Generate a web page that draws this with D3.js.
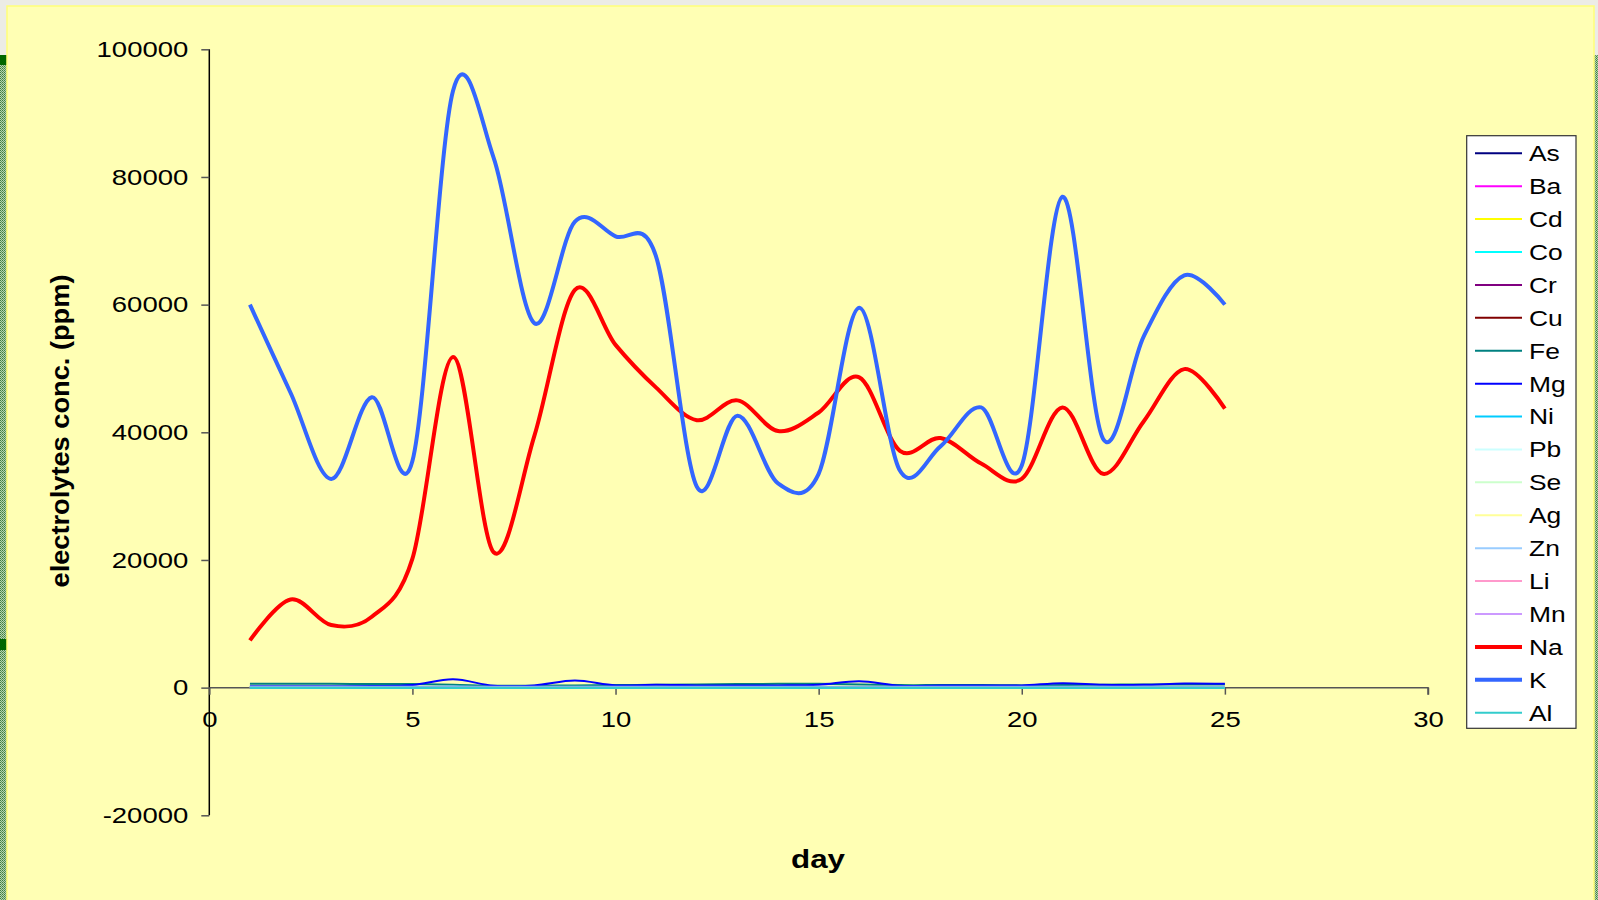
<!DOCTYPE html>
<html>
<head>
<meta charset="utf-8">
<script src="https://cdnjs.cloudflare.com/ajax/libs/d3/7.8.5/d3.min.js"></script>
<style>
html,body{margin:0;padding:0;background:#ecece6;overflow:hidden;}
svg{display:block;}
text{font-family:"Liberation Sans",Arial,sans-serif;}
</style>
</head>
<body>
<svg id="chart" width="1598" height="900"></svg>
<script>
// ---------- DATA ----------
const days = [1,2,3,4,5,6,7,8,9,10,11,12,13,14,15,16,17,18,19,20,21,22,23,24,25];
const seriesNames = ["As","Ba","Cd","Co","Cr","Cu","Fe","Mg","Ni","Pb","Se","Ag","Zn","Li","Mn","Na","K","Al"];
const seriesColors = ["#000080","#FF00FF","#FFFF00","#00FFFF","#800080","#800000","#008080","#0000FF","#00CCFF","#CCFFFF","#CCFFCC","#FFFF99","#99CCFF","#FF99CC","#CC99FF","#FF0000","#3366FF","#33CCCC"];
const As = [10,10,10,10,10,12,10,10,10,10,10,10,10,10,10,10,10,10,10,10,10,10,10,10,10];
const Ba = [20,20,20,20,20,25,20,20,22,20,20,20,20,20,20,22,20,20,20,20,20,20,20,20,20];
const Cd = [5,5,5,5,5,5,5,5,5,5,5,5,5,5,5,5,5,5,5,5,5,5,5,5,5];
const Co = [5,5,5,5,5,5,5,5,5,5,5,5,5,5,5,5,5,5,5,5,5,5,5,5,5];
const Cr = [20,20,20,20,20,20,20,20,20,20,20,20,20,20,20,20,20,20,20,20,20,20,20,20,20];
const Cu = [30,30,30,30,30,35,30,30,30,30,30,30,30,30,30,30,30,30,30,30,30,30,30,30,30];
const Fe = [600,600,600,550,550,450,300,300,350,400,450,500,550,600,600,500,400,400,400,350,400,450,500,500,500];
const Mg = [200,200,220,250,400,1300,300,350,1100,350,450,350,350,350,450,1000,300,350,350,350,700,450,450,650,600];
const Ni = [100,100,100,100,100,120,100,100,110,100,100,100,100,100,100,110,100,100,100,100,100,100,100,100,100];
const Pb = [10,10,10,10,10,10,10,10,10,10,10,10,10,10,10,10,10,10,10,10,10,10,10,10,10];
const Se = [10,10,10,10,10,10,10,10,10,10,10,10,10,10,10,10,10,10,10,10,10,10,10,10,10];
const Ag = [5,5,5,5,5,5,5,5,5,5,5,5,5,5,5,5,5,5,5,5,5,5,5,5,5];
const Zn = [150,150,150,150,150,160,150,150,150,150,150,150,150,150,150,150,150,150,150,150,150,150,150,150,150];
const Li = [50,50,50,50,50,50,50,50,50,50,50,50,50,50,50,50,50,50,50,50,50,50,50,50,50];
const Mn = [100,100,100,100,100,110,100,100,100,100,100,100,100,100,100,100,100,100,100,100,100,100,100,100,100];
const Na = [7400,13800,9800,11100,20200,51800,21200,39400,62300,53700,47000,41900,45000,40200,43100,48600,37100,39100,35100,32700,43900,33500,41700,49900,43700];
const K  = [60000,46200,32700,45500,35500,93500,83000,57100,73000,70700,67500,31500,42600,32000,33500,59500,34000,37800,43900,34800,76900,39000,55000,64600,60000];
const Al = [0,0,0,0,0,0,0,0,0,0,0,0,0,0,0,0,0,0,0,0,0,0,0,0,0];
const seriesValues = [As,Ba,Cd,Co,Cr,Cu,Fe,Mg,Ni,Pb,Se,Ag,Zn,Li,Mn,Na,K,Al];
const xTicks = [0,5,10,15,20,25,30];
const yTicks = [-20000,0,20000,40000,60000,80000,100000];
const xTitle = "day";
const yTitle = "electrolytes conc. (ppm)";

// ---------- DRAW ----------
const svg = d3.select("#chart");
const defs = svg.append("defs");
const pat = defs.append("pattern").attr("id","grn").attr("width",2).attr("height",2).attr("patternUnits","userSpaceOnUse");
pat.append("rect").attr("width",2).attr("height",2).attr("fill","#b8d4b0");
pat.append("rect").attr("width",1).attr("height",1).attr("fill","#3f7f3f");
pat.append("rect").attr("x",1).attr("y",1).attr("width",1).attr("height",1).attr("fill","#5f975f");

svg.append("rect").attr("x",0).attr("y",0).attr("width",1598).attr("height",900).attr("fill","#ecece6");
svg.append("rect").attr("x",0).attr("y",55).attr("width",7).attr("height",845).attr("fill","url(#grn)");
svg.append("rect").attr("x",0).attr("y",55).attr("width",7).attr("height",10).attr("fill","#006600");
svg.append("rect").attr("x",0).attr("y",639).attr("width",7).attr("height",11).attr("fill","#006600");
svg.append("rect").attr("x",1593).attr("y",55).attr("width",5).attr("height",845).attr("fill","url(#grn)");
svg.append("rect").attr("x",7).attr("y",6).attr("width",1587).attr("height",900)
  .attr("fill","#FFFFB4").attr("stroke","#FFFF7A").attr("stroke-width",1.5);

const x = d3.scaleLinear().domain([0,30]).range([209.3,1428]);
const y = d3.scaleLinear().domain([-20000,100000]).range([815.3,49.3]);
const fmt = d => String(d);

// y axis
const yAxis = d3.axisLeft(y).tickValues(yTicks).tickSize(8).tickPadding(13).tickFormat(fmt);
const gy = svg.append("g").attr("transform","translate("+x(0)+",0)").call(yAxis);
gy.select(".domain").attr("stroke","#000").attr("stroke-width",1.5).attr("d","M0,"+y(-20000)+"V"+y(100000));
gy.selectAll(".tick line").attr("stroke","#555").attr("stroke-width",1.5);
gy.selectAll(".tick text").attr("font-size",22).attr("fill","#000")
  .style("font-family","'Liberation Sans',Arial,sans-serif");

// x axis at y=0
const xAxis = d3.axisBottom(x).tickValues(xTicks).tickSize(7).tickPadding(17).tickFormat(fmt);
const gx = svg.append("g").attr("transform","translate(0,"+y(0)+")").call(xAxis);
gx.select(".domain").attr("stroke","#555").attr("stroke-width",1.5).attr("d","M"+x(0)+",0H"+x(30)+"V7");
gx.selectAll(".tick line").attr("stroke","#555").attr("stroke-width",1.5);
gx.selectAll(".tick text").attr("font-size",22).attr("fill","#000")
  .style("font-family","'Liberation Sans',Arial,sans-serif");

// titles
const xt = svg.append("text").attr("x",818).attr("y",868).attr("text-anchor","middle")
  .attr("font-size",25).attr("font-weight","bold").text(xTitle);
const yt = svg.append("text").attr("transform","translate(69,431) rotate(-90)").attr("text-anchor","middle")
  .attr("font-size",25).attr("font-weight","bold").text(yTitle);

// lines
const line = d3.line().x((d,i)=>x(days[i])).y(d=>y(d)).curve(d3.curveCardinal.tension(0));
const thick = {"Na":4,"K":4,"Al":2.5};
seriesNames.forEach((name,i)=>{
  svg.append("path").datum(seriesValues[i]).attr("d",line)
    .attr("fill","none").attr("stroke",seriesColors[i])
    .attr("stroke-width",thick[name]||2).attr("stroke-linejoin","round");
});

// legend
const lg = svg.append("g");
lg.append("rect").attr("x",1466.7).attr("y",135.7).attr("width",109.3).attr("height",592.6)
  .attr("fill","#fff").attr("stroke","#333").attr("stroke-width",1.2);
const ly = d3.scalePoint().domain(seriesNames).range([153.3,712.7]);
seriesNames.forEach((name,i)=>{
  const yy = ly(name);
  lg.append("line").attr("x1",1475).attr("x2",1522).attr("y1",yy).attr("y2",yy)
    .attr("stroke",seriesColors[i]).attr("stroke-width",(name==="Na"||name==="K")?4:2);
  lg.append("text").attr("class","lt").attr("x",1529).attr("y",yy).attr("dy","0.36em").attr("font-size",22).text(name);
});

// horizontal stretch of the text, as in the reference
function stretch(sel, f){
  sel.each(function(){
    const w = this.getComputedTextLength();
    d3.select(this).attr("textLength", w*f).attr("lengthAdjust","spacingAndGlyphs");
  });
}
stretch(gy.selectAll(".tick text"),1.25);
stretch(gx.selectAll(".tick text"),1.25);
stretch(lg.selectAll("text.lt"),1.2);
xt.attr("textLength",54).attr("lengthAdjust","spacingAndGlyphs");
yt.attr("textLength",313).attr("lengthAdjust","spacingAndGlyphs");
</script>
</body>
</html>
